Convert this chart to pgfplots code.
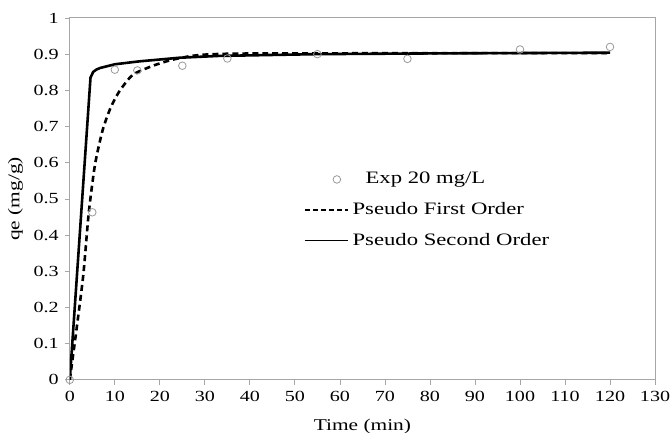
\documentclass[border=0pt]{standalone}
\usepackage{fontspec}
\setmainfont{Liberation Serif}[FakeStretch=1.3]
\usepackage{pgfplots}
\pgfplotsset{compat=1.18}
\pgfplotsset{
  legmark/.style={legend image code/.code={\draw[##1] plot coordinates {(32pt,0pt)};}},
  legdash/.style={legend image code/.code={\draw[##1, line width=1.6pt, dash pattern=on 5pt off 3pt] (0pt,0pt) -- (43pt,0pt);}},
  legline/.style={legend image code/.code={\draw[##1, line width=1.6pt] (0pt,0pt) -- (43pt,0pt);}},
}
\begin{document}
\fontsize{17.5}{21}\selectfont
\begin{tikzpicture}
\begin{axis}[
name=ax,
scale only axis,
width=587pt, height=363pt,
xmin=0, xmax=130, ymin=0, ymax=1,
xtick={0,10,...,130},
ytick={0,0.1,...,1},
yticklabels={0,0.1,0.2,0.3,0.4,0.5,0.6,0.7,0.8,0.9,1},
tick align=outside,
xtick pos=bottom, ytick pos=left,
major tick length=5pt,
axis line style={gray!70, line width=1pt},
tick style={gray!70, line width=0.8pt},
/pgf/number format/assume math mode=true,
tick label style={font=\fontsize{15.5}{19}\selectfont},
label style={font=\fontsize{16.5}{20}\selectfont},
xlabel={Time (min)},
ylabel={qe (mg/g)},
xlabel style={yshift=-6pt},
ylabel style={yshift=-1pt},
legend cell align=left,
legend style={draw=none, fill=none, at={(0.395,0.585)}, anchor=north west,
  row sep=12pt, font=\fontsize{17.5}{21}\selectfont},
]
\addplot[only marks, mark=o, mark size=3.8pt, gray!80, line width=0.8pt, legmark]
coordinates {(0,0) (5,0.463) (10,0.857) (15,0.855) (25,0.868) (35,0.888) (55,0.900) (75,0.887) (100,0.913) (120,0.920)};
\addlegendentry{\hspace{15pt}Exp 20 mg/L}
\addplot[black, line width=2.6pt, dash pattern=on 6pt off 4pt, smooth, tension=0.4, legdash]
coordinates {(0,0) (1.5,0.14) (3,0.29) (4.2,0.46) (5.6,0.595) (7.3,0.69) (9,0.75) (11,0.797) (14,0.843) (18.5,0.868) (22.3,0.883) (27,0.895) (32,0.900) (45,0.902) (120,0.903)};
\addlegendentry{\hspace{2pt}Pseudo First Order}
\addplot[black, line width=2.6pt, line join=round, legline]
coordinates {(0,0) (4.6,0.835) (5.2,0.851) (6,0.858) (6.8,0.862) (10,0.872) (15.4,0.880) (24.3,0.890) (33,0.895) (55,0.900) (80,0.902) (120,0.904)};
\addlegendentry{\hspace{2pt}Pseudo Second Order}
\end{axis}
\pgfresetboundingbox
\path[use as bounding box] ([xshift=-70pt,yshift=-53pt]ax.south west) rectangle ([xshift=17pt,yshift=18pt]ax.north east);
\end{tikzpicture}
\end{document}
